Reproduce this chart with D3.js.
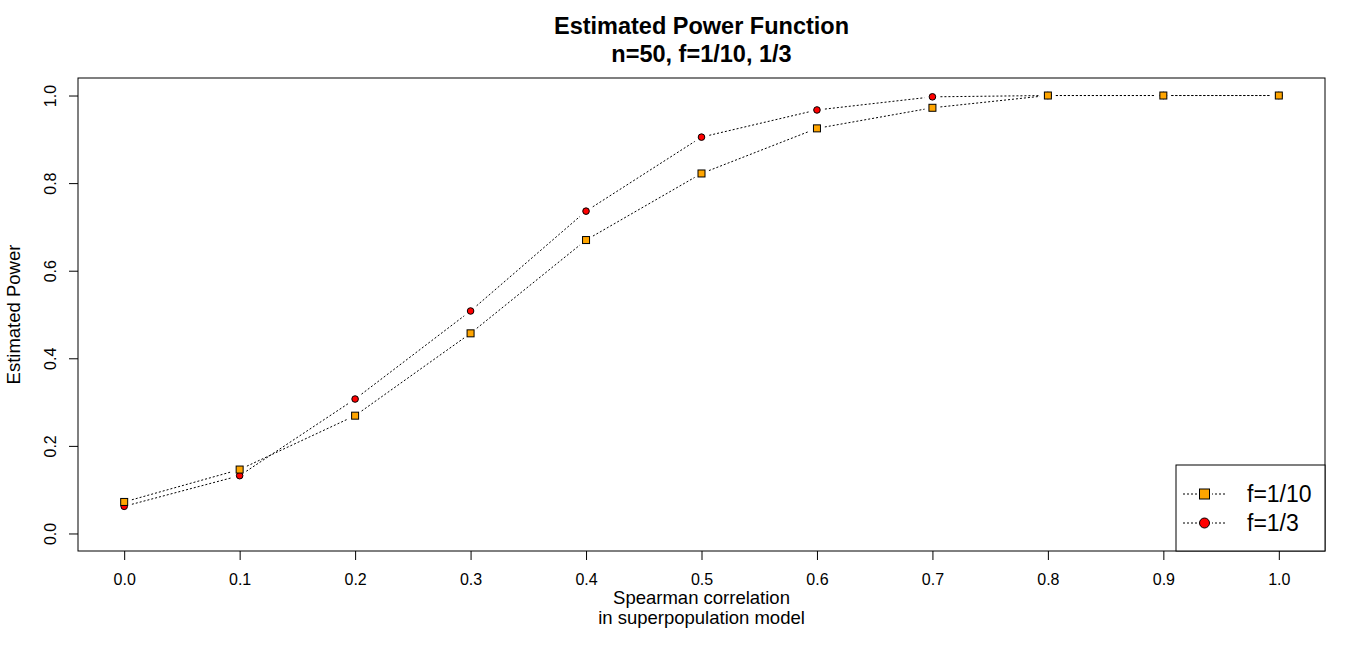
<!DOCTYPE html>
<html lang="en">
<head>
<meta charset="UTF-8">
<title>Estimated Power Function</title>
<style>
    body { margin: 0; background: #fff; }
    svg { display: block; font-family: 'Liberation Sans', Arial, sans-serif; }
</style>
</head>
<body>
<div id="chart"></div>
<script src="https://d3js.org/d3.v7.min.js"></script>
<script>
    // spearman correlation values on the x axis
    const rho = [0.0, 0.1, 0.2, 0.3, 0.4, 0.5, 0.6, 0.7, 0.8, 0.9, 1.0];
    // estimated power, f = 1/10 (orange squares)
    const powerTenth = [0.072, 0.146, 0.269, 0.457, 0.670, 0.822, 0.925, 0.972, 1.0, 1.0, 1.0];
    // estimated power, f = 1/3 (red circles)
    const powerThird = [0.062, 0.132, 0.307, 0.508, 0.736, 0.905, 0.967, 0.997, 1.0, 1.0, 1.0];
    const xTicks = [0.0, 0.1, 0.2, 0.3, 0.4, 0.5, 0.6, 0.7, 0.8, 0.9, 1.0];
    const yTicks = [0.0, 0.2, 0.4, 0.6, 0.8, 1.0];
    const legendLabels = ["f=1/10", "f=1/3"];

    const width = 1366, height = 650;
    const box = {left: 78, right: 1325, top: 78, bottom: 551};

    const svg = d3.select("#chart").append("svg")
        .attr("width", width)
        .attr("height", height);

    // R style: 4% padding on each side of the data range
    const x = d3.scaleLinear().domain([-0.04, 1.04]).range([box.left, box.right]);
    const y = d3.scaleLinear().domain([-0.04, 1.04]).range([box.bottom, box.top]);

    // frame
    svg.append("rect")
        .attr("x", box.left).attr("y", box.top)
        .attr("width", box.right - box.left).attr("height", box.bottom - box.top)
        .attr("fill", "none").attr("stroke", "#000").attr("stroke-width", 1);

    // x axis
    const xAxis = svg.append("g").attr("transform", `translate(0,${box.bottom})`)
        .call(d3.axisBottom(x).tickValues(xTicks).tickFormat(d3.format(".1f")).tickSize(9).tickPadding(14));
    xAxis.select(".domain").remove();
    xAxis.selectAll("text").attr("font-size", 16).attr("font-family", "'Liberation Sans', Arial, sans-serif");

    // y axis, labels rotated like R's default las=0
    const yAxis = svg.append("g").attr("transform", `translate(${box.left},0)`)
        .call(d3.axisLeft(y).tickValues(yTicks).tickFormat(d3.format(".1f")).tickSize(9));
    yAxis.select(".domain").remove();
    yAxis.selectAll("text")
        .attr("font-size", 16).attr("font-family", "'Liberation Sans', Arial, sans-serif")
        .attr("x", null).attr("dy", null)
        .attr("text-anchor", "middle")
        .attr("transform", "translate(-22,0) rotate(-90)");

    // titles
    svg.append("text").attr("x", (box.left + box.right) / 2).attr("y", 34)
        .attr("text-anchor", "middle").attr("font-size", 23.5).attr("font-weight", "bold")
        .text("Estimated Power Function");
    svg.append("text").attr("x", (box.left + box.right) / 2).attr("y", 62)
        .attr("text-anchor", "middle").attr("font-size", 23.5).attr("font-weight", "bold")
        .text("n=50, f=1/10, 1/3");

    svg.append("text").attr("x", (box.left + box.right) / 2).attr("y", 604)
        .attr("text-anchor", "middle").attr("font-size", 18.5)
        .text("Spearman correlation");
    svg.append("text").attr("x", (box.left + box.right) / 2).attr("y", 624)
        .attr("text-anchor", "middle").attr("font-size", 18.5)
        .text("in superpopulation model");

    svg.append("text")
        .attr("transform", `translate(20,${(box.top + box.bottom) / 2}) rotate(-90)`)
        .attr("text-anchor", "middle").attr("font-size", 18.5)
        .text("Estimated Power");

    // type="b": segments stop short of each point
    const gap = 8;
    function drawSeries(values) {
        const pts = rho.map((r, i) => [x(r), y(values[i])]);
        const g = svg.append("g");
        for (let i = 0; i < pts.length - 1; i++) {
            const [x0, y0] = pts[i], [x1, y1] = pts[i + 1];
            const len = Math.hypot(x1 - x0, y1 - y0);
            if (len <= 2 * gap) continue;
            const ux = (x1 - x0) / len, uy = (y1 - y0) / len;
            g.append("line")
                .attr("x1", x0 + ux * gap).attr("y1", y0 + uy * gap)
                .attr("x2", x1 - ux * gap).attr("y2", y1 - uy * gap)
                .attr("stroke", "#000").attr("stroke-width", 1)
                .attr("stroke-dasharray", "2,2");
        }
        return pts;
    }

    function circle(g, cx, cy, r) {
        g.append("circle").attr("cx", cx).attr("cy", cy).attr("r", r)
            .attr("fill", "#ff0000").attr("stroke", "#000").attr("stroke-width", 1);
    }
    function square(g, cx, cy, s) {
        g.append("rect").attr("x", cx - s / 2).attr("y", cy - s / 2)
            .attr("width", s).attr("height", s)
            .attr("fill", "#ffa500").attr("stroke", "#000").attr("stroke-width", 1);
    }

    const redPts = drawSeries(powerThird);
    const orgPts = drawSeries(powerTenth);
    const marks = svg.append("g");
    redPts.forEach(p => circle(marks, p[0], p[1], 3.3));
    orgPts.forEach(p => square(marks, p[0], p[1], 7));

    // legend, bottom right
    const leg = svg.append("g");
    leg.append("rect")
        .attr("x", 1176).attr("y", 465)
        .attr("width", box.right - 1176).attr("height", box.bottom - 465)
        .attr("fill", "#fff").attr("stroke", "#000").attr("stroke-width", 1);
    const rowY = [494, 523];
    legendLabels.forEach((lab, i) => {
        leg.append("line")
            .attr("x1", 1183).attr("x2", 1226).attr("y1", rowY[i]).attr("y2", rowY[i])
            .attr("stroke", "#000").attr("stroke-dasharray", "2,2");
        leg.append("rect").attr("x", 1197).attr("y", rowY[i] - 7).attr("width", 15).attr("height", 14)
            .attr("fill", "#fff");
        if (i === 0) square(leg, 1204.5, rowY[i], 10);
        else circle(leg, 1204.5, rowY[i], 5);
        leg.append("text").attr("x", 1247).attr("y", rowY[i] + 8)
            .attr("font-size", 23).text(lab);
    });
</script>
</body>
</html>
